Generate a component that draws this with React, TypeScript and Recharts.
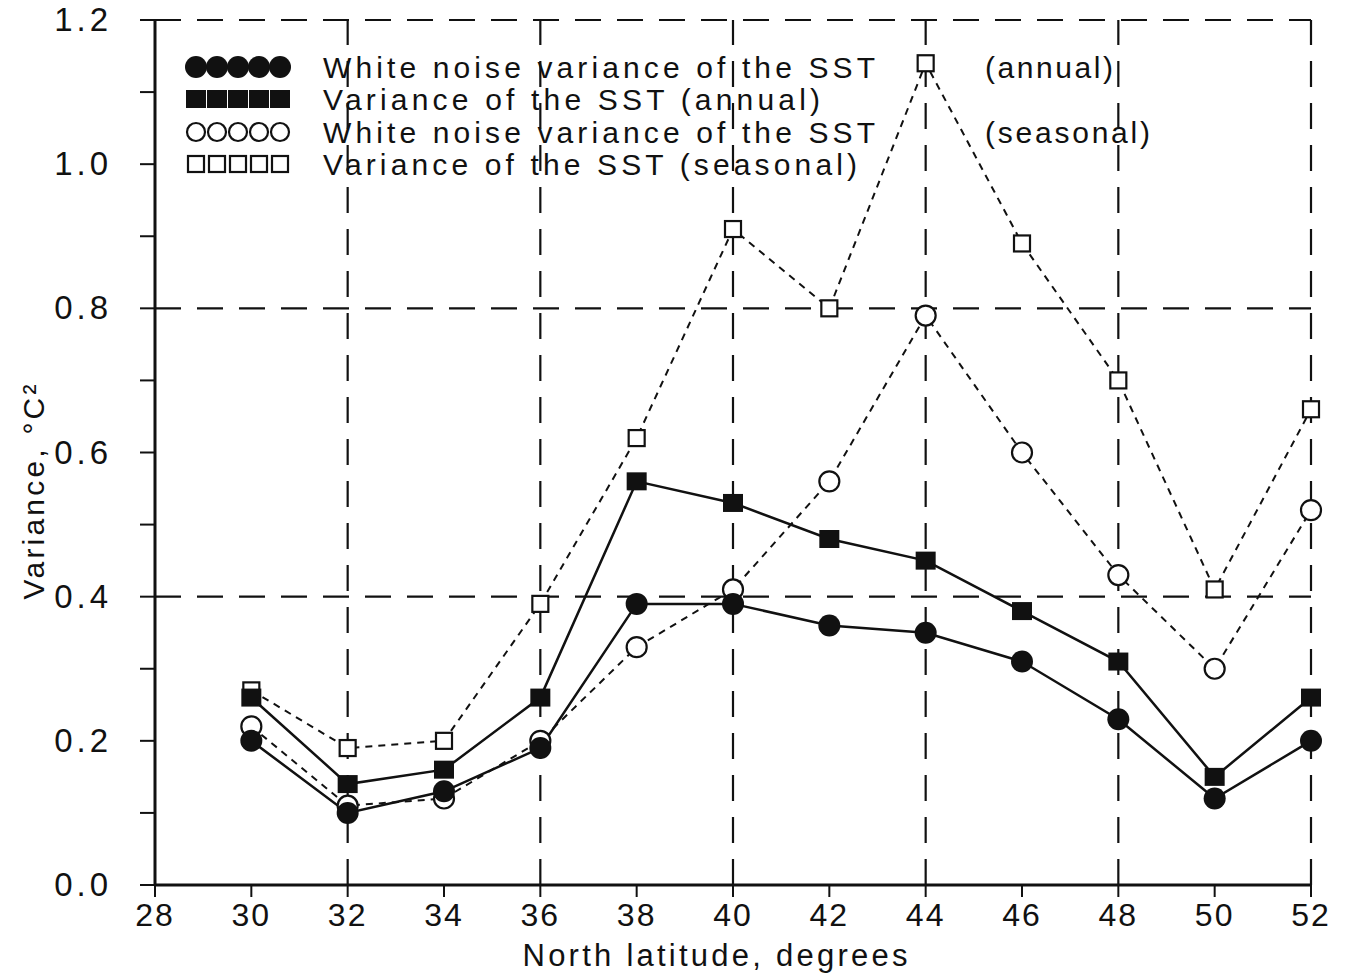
import { LineChart, Line, XAxis, YAxis, ReferenceLine } from "recharts"

const latitudes = [30, 32, 34, 36, 38, 40, 42, 44, 46, 48, 50, 52]
const whiteNoiseAnnual = [0.2, 0.1, 0.13, 0.19, 0.39, 0.39, 0.36, 0.35, 0.31, 0.23, 0.12, 0.2]
const varianceAnnual = [0.26, 0.14, 0.16, 0.26, 0.56, 0.53, 0.48, 0.45, 0.38, 0.31, 0.15, 0.26]
const whiteNoiseSeasonal = [0.22, 0.11, 0.12, 0.2, 0.33, 0.41, 0.56, 0.79, 0.6, 0.43, 0.3, 0.52]
const varianceSeasonal = [0.27, 0.19, 0.2, 0.39, 0.62, 0.91, 0.8, 1.14, 0.89, 0.7, 0.41, 0.66]

const xTicks = [28, 30, 32, 34, 36, 38, 40, 42, 44, 46, 48, 50, 52]
const yTicks = [0, 0.1, 0.2, 0.3, 0.4, 0.5, 0.6, 0.7, 0.8, 0.9, 1.0, 1.1, 1.2]
const gridX = [32, 36, 40, 44, 48, 52]
const gridY = [0.4, 0.8, 1.2]

const data = latitudes.map((lat, i) => ({
  lat,
  wna: whiteNoiseAnnual[i],
  va: varianceAnnual[i],
  wns: whiteNoiseSeasonal[i],
  vs: varianceSeasonal[i],
}))

const INK = "#111"
const FONT = "'Liberation Sans', Arial, sans-serif"

const filledCircle = (p: any) => <circle key={p.index} cx={p.cx} cy={p.cy} r={11} fill={INK} />
const filledSquare = (p: any) => (
  <rect key={p.index} x={p.cx - 10} y={p.cy - 9} width={20} height={18} fill={INK} />
)
const openCircle = (p: any) => (
  <circle key={p.index} cx={p.cx} cy={p.cy} r={10} fill="white" stroke={INK} strokeWidth={2.2} />
)
const openSquare = (p: any) => (
  <rect key={p.index} x={p.cx - 8} y={p.cy - 8} width={16} height={16} fill="white" stroke={INK} strokeWidth={2.2} />
)

const YTick = (p: any) => {
  const v = p.payload.value
  if (Math.round(v * 10) % 2 !== 0) return <g />
  return (
    <text x={p.x + 2} y={p.y} dy={11} textAnchor="end" fontSize={33} fontFamily={FONT} fill={INK} letterSpacing={4}>
      {v.toFixed(1)}
    </text>
  )
}

const XTick = (p: any) => (
  <text x={p.x} y={p.y} dy={27} textAnchor="middle" fontSize={32} fontFamily={FONT} fill={INK} letterSpacing={2}>
    {p.payload.value}
  </text>
)

const legendCenters = [196, 217, 238, 259, 280]

function Overlay() {
  const rows = [67, 99, 132, 164]
  return (
    <svg width={1348} height={976} style={{ position: "absolute", left: 0, top: 0, pointerEvents: "none" }}>
      {legendCenters.map((cx) => (
        <circle key={"a" + cx} cx={cx} cy={rows[0]} r={11} fill={INK} />
      ))}
      {legendCenters.map((cx) => (
        <rect key={"b" + cx} x={cx - 10} y={rows[1] - 9} width={20} height={18} fill={INK} />
      ))}
      {legendCenters.map((cx) => (
        <circle key={"c" + cx} cx={cx} cy={rows[2]} r={9} fill="white" stroke={INK} strokeWidth={2.2} />
      ))}
      {legendCenters.map((cx) => (
        <rect key={"d" + cx} x={cx - 8} y={rows[3] - 8} width={16} height={16} fill="white" stroke={INK} strokeWidth={2.2} />
      ))}
      <g fontSize={30} fontFamily={FONT} fill={INK}>
        <text x={323} y={rows[0] + 11} textLength={552} lengthAdjust="spacing">White noise variance of the SST</text>
        <text x={985} y={rows[0] + 11} textLength={128} lengthAdjust="spacing">(annual)</text>
        <text x={323} y={rows[1] + 11} textLength={497} lengthAdjust="spacing">Variance of the SST (annual)</text>
        <text x={323} y={rows[2] + 11} textLength={552} lengthAdjust="spacing">White noise variance of the SST</text>
        <text x={985} y={rows[2] + 11} textLength={165} lengthAdjust="spacing">(seasonal)</text>
        <text x={323} y={rows[3] + 11} textLength={534} lengthAdjust="spacing">Variance of the SST (seasonal)</text>
        <text
          x={44}
          y={492}
          transform="rotate(-90 44 492)"
          textAnchor="middle"
          textLength={215}
          lengthAdjust="spacing"
        >
          Variance, °C²
        </text>
        <text x={715} y={966} textAnchor="middle" fontSize={31} textLength={385} lengthAdjust="spacing">
          North latitude, degrees
        </text>
      </g>
    </svg>
  )
}

export default function App() {
  return (
    <div style={{ position: "absolute", left: 0, top: 0, width: 1348, height: 976, background: "white" }}>
      <LineChart width={1348} height={976} data={data} margin={{ top: 20, right: 37, bottom: 0, left: 0 }}>
        {gridX.map((x) => (
          <ReferenceLine key={"gx" + x} x={x} stroke={INK} strokeWidth={2.2} strokeDasharray="26 16" />
        ))}
        {gridY.map((y) => (
          <ReferenceLine key={"gy" + y} y={y} stroke={INK} strokeWidth={2.2} strokeDasharray="26 16" />
        ))}
        <XAxis
          dataKey="lat"
          type="number"
          domain={[28, 52]}
          ticks={xTicks}
          interval={0}
          height={91}
          tickSize={12}
          tick={<XTick />}
          axisLine={{ stroke: INK, strokeWidth: 3 }}
          tickLine={{ stroke: INK, strokeWidth: 2 }}
        />
        <YAxis
          type="number"
          domain={[0, 1.2]}
          ticks={yTicks}
          interval={0}
          width={155}
          tickSize={15}
          tickMargin={30}
          tick={<YTick />}
          axisLine={{ stroke: INK, strokeWidth: 3 }}
          tickLine={{ stroke: INK, strokeWidth: 2 }}
        />
        <Line dataKey="vs" stroke={INK} strokeWidth={2} strokeDasharray="7 6" dot={openSquare} isAnimationActive={false} />
        <Line dataKey="wns" stroke={INK} strokeWidth={2} strokeDasharray="7 6" dot={openCircle} isAnimationActive={false} />
        <Line dataKey="va" stroke={INK} strokeWidth={2.5} dot={filledSquare} isAnimationActive={false} />
        <Line dataKey="wna" stroke={INK} strokeWidth={2.5} dot={filledCircle} isAnimationActive={false} />
      </LineChart>
      <Overlay />
    </div>
  )
}
